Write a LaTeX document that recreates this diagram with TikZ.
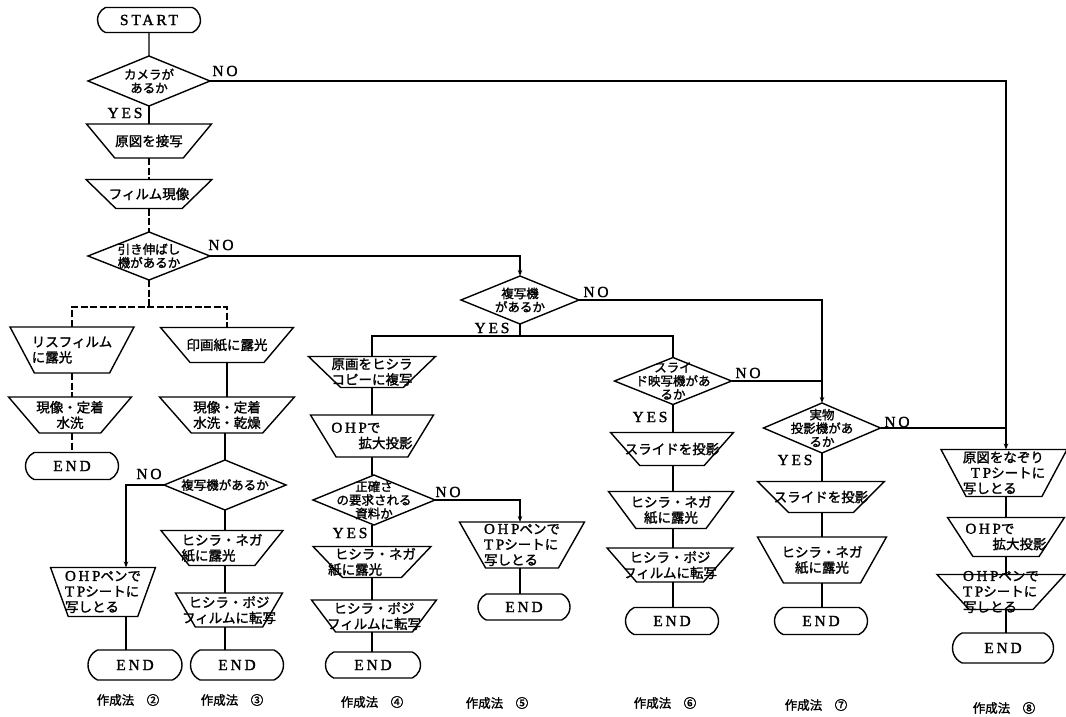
\documentclass[tikz,border=0pt]{standalone}
\usepackage{fontspec}
\usetikzlibrary{shapes.geometric,shapes.misc,arrows.meta,calc}
\newfontfamily\jp[FakeBold=1.5]{Noto Sans CJK JP}
\newfontfamily\lat[LetterSpace=18,FakeBold=1.5]{Liberation Serif}
\newcommand\jtxt{\fontsize{13.5}{15.5}\selectfont\jp}
\newcommand\jdia{\fontsize{12.5}{13.5}\selectfont\jp}
\newcommand\ltxt{\fontsize{15.5}{15.5}\selectfont\lat}
\newcommand\LL[1]{{\fontsize{15}{15}\selectfont\lat #1}}
\tikzset{
  base/.style={draw, line width=1.4pt, inner sep=0pt, outer sep=0pt},
  txt/.style={font=\jtxt, align=center, inner sep=0pt},
  txtl/.style={font=\jtxt, align=left, inner sep=0pt},
  dtxt/.style={font=\jdia, align=center, inner sep=0pt},
  term/.style n args={2}{base, rounded rectangle, rounded rectangle arc length=130, minimum width=#1, minimum height=#2, font=\ltxt},
  tzb/.style n args={3}{base, inner sep=3pt, trapezium, shape border rotate=180, trapezium stretches=true, minimum width=#1, minimum height=#2, trapezium angle=#3},
  tz/.style n args={4}{tzb={#1}{#2}{#3}, label={[txt]center:#4}},
  tzl/.style n args={4}{tzb={#1}{#2}{#3}, label={[txtl]center:#4}},
  dia/.style n args={3}{base, inner sep=2pt, diamond, minimum width=#1, minimum height=#2, label={[dtxt]center:#3}},
  yn/.style={font=\ltxt, inner sep=0pt},
  capt/.style={font=\fontsize{12.5}{13}\selectfont\jp, inner sep=0pt},
  cn/.style={line width=1.4pt},
  dcn/.style={line width=1.4pt, dash pattern=on 7pt off 2.5pt},
  arr/.style={-{Stealth[length=6pt,width=4.5pt]}},
}
\begin{document}
\begin{tikzpicture}[x=1pt,y=-1pt]
\fill[white] (0,0) rectangle (1066,717);
\useasboundingbox (0,0) rectangle (1066,717);

% column 1 / top
\node[term={103pt}{25pt}] (start) at (149,20) {START};
\node[dia={122pt}{50pt}{カメラが\\あるか}] (d1) at (149,81) {};
\node[tz={125pt}{34pt}{67.6}{原図を接写}] (n1) at (149,141) {};
\node[tz={126pt}{29pt}{65.8}{フィルム現像}] (n2) at (149,194) {};
\node[dia={122pt}{48pt}{引き伸ばし\\機があるか}] (d2) at (149,256) {};
\coordinate (sp) at (149,307);
\node[tzl={124pt}{46pt}{72}{リスフィルム\\に露光}] (n3) at (72,350) {};
\node[tz={123pt}{36pt}{63.4}{現像・定着\\水洗}] (n4) at (70,415) {};
\node[term={93pt}{27pt}] (end1) at (72,466) {END};
\node[tz={133pt}{35pt}{68.2}{印画紙に露光}] (n5) at (227,345) {};
\node[tz={135pt}{36pt}{66}{現像・定着\\水洗・乾燥}] (n6) at (227,415) {};
\node[dia={122pt}{50pt}{複写機があるか}] (d3) at (225,485) {};
\node[tzl={105pt}{49pt}{75.7}{\LL{OHP}ペンで\\\LL{TP}シートに\\写しとる}] (n7) at (103,592) {};
\node[term={94pt}{30pt}] (end2) at (135,665) {END};
\node[tzl={122pt}{35pt}{66.8}{ヒシラ・ネガ\\紙に露光}] (n8) at (222,548) {};
\node[tz={107pt}{34pt}{73.6}{ヒシラ・ポジ\\フィルムに転写}] (n9) at (229,610) {};
\node[term={93pt}{30pt}] (end3) at (237,665) {END};

% column 4/5
\node[dia={118pt}{48pt}{複写機\\があるか}] (d4) at (520,300) {};
\coordinate (y4) at (520,336);
\node[tz={127pt}{31pt}{62.7}{原画をヒシラ\\コピーに複写}] (n10) at (372,372) {};
\node[tzl={123pt}{42pt}{70.3}{\LL{OHP}で\\\hspace{2em}拡大投影}] (n11) at (372,436) {};
\node[dia={122pt}{50pt}{正確さ\\の要求される\\資料か}] (d6) at (374,500) {};
\node[tzl={118pt}{31pt}{63.4}{\hspace{0.5em}ヒシラ・ネガ\\紙に露光}] (n12) at (372,562) {};
\node[tz={125pt}{32pt}{72.6}{ヒシラ・ポジ\\フィルムに転写}] (n13) at (374,616) {};
\node[term={95pt}{26pt}] (end4) at (373,665) {END};
\node[tzl={125pt}{46pt}{70.3}{\LL{OHP}ペンで\\\LL{TP}シートに\\写しとる}] (n14) at (522,545) {};
\node[term={92pt}{26pt}] (end5) at (524,607) {END};

% column 6
\node[dia={117pt}{47pt}{スライ\\ド映写機があ\\るか}] (d5) at (673,381) {};
\node[tz={123pt}{33pt}{65.6}{スライドを投影}] (n15) at (672,449) {};
\node[tz={125pt}{37pt}{68.6}{ヒシラ・ネガ\\紙に露光}] (n16) at (671,510) {};
\node[tz={126pt}{34pt}{66.2}{ヒシラ・ポジ\\フィルムに転写}] (n17) at (670,565) {};
\node[term={93pt}{27pt}] (end6) at (672,621) {END};

% column 7
\node[dia={117pt}{50pt}{実物\\投影機があ\\るか}] (d7) at (822,428) {};
\node[tz={127pt}{31pt}{64.2}{スライドを投影}] (n18) at (821,497) {};
\node[tz={129pt}{46pt}{71.4}{ヒシラ・ネガ\\紙に露光}] (n19) at (822,560) {};
\node[term={93pt}{27pt}] (end7) at (821,621) {END};

% column 8
\node[tzl={126pt}{47pt}{71.7}{原図をなぞり\\\hspace{0.6em}\LL{TP}シートに\\写しとる}] (n20) at (1004,473) {};
\node[tzl={117pt}{39pt}{69}{\LL{OHP}で\\\hspace{2em}拡大投影}] (n21) at (1006,537) {};
\node[tzl={128pt}{35pt}{63.4}{\LL{OHP}ペンで\\\LL{TP}シートに\\写しとる}] (n22) at (1001,592) {};
\node[term={101pt}{30pt}] (end8) at (1003,648) {END};
\coordinate (n20in) at ([xshift=2pt]n20.north);
\coordinate (n20out) at ([xshift=2pt]n20.south);
\coordinate (n7in) at ([xshift=23pt]n7.north);
\coordinate (n7out) at ([xshift=23pt]n7.south);
\coordinate (n14in) at ([xshift=-2pt]n14.north);
\coordinate (n14out) at ([xshift=-2pt]n14.south);

% YES / NO labels
\node[yn] (no1) at (225,71) {NO};
\node[yn] (yes1) at (125,113) {YES};
\node[yn] (no2) at (221,245) {NO};
\node[yn] (no3) at (149,474) {NO};
\node[yn] (no4) at (596,292) {NO};
\node[yn] (yes4) at (492,328) {YES};
\node[yn] (no6) at (448,492) {NO};
\node[yn] (yes6) at (350,533) {YES};
\node[yn] (no5) at (748,373) {NO};
\node[yn] (yes5) at (650,417) {YES};
\node[yn] (no7) at (897,422) {NO};
\node[yn] (yes7) at (795,460) {YES};

% captions
\node[capt] (c2) at (128,700) {作成法\quad ②};
\node[capt] (c3) at (232,700) {作成法\quad ③};
\node[capt] (c4) at (372,702) {作成法\quad ④};
\node[capt] (c5) at (497,703) {作成法\quad ⑤};
\node[capt] (c6) at (665,703) {作成法\quad ⑥};
\node[capt] (c7) at (816,705) {作成法\quad ⑦};
\node[capt] (c8) at (1004,708) {作成法\quad ⑧};

% connectors column 1
\draw[cn] (start) -- (d1);
\draw[cn] (d1) -- (n1);
\draw[dcn] (n1) -- (n2);
\draw[dcn] (n2) -- (d2);
\draw[dcn] (d2) -- (sp);
\draw[dcn] (n3.north) |- (sp) -| (n5.north);
\draw[dcn] (n3.south) -- (n3.south |- n4.north);
\draw[dcn] (n3.south |- n4.south) -- (n3.south |- end1.north);
\draw[cn] (n5) -- (n6);
\draw[cn] (d3.north |- n6.south) -- (d3.north);
\draw[cn, arr] (d3.west) -| (n7in);
\draw[cn] (n7out) -- (n7out |- end2.north);
\draw[cn] (d3.south) -- (d3.south |- n8.north);
\draw[cn] (d3.south |- n8.south) -- (d3.south |- n9.north);
\draw[cn] (d3.south |- n9.south) -- (d3.south |- end3.north);

% top NO lines
\draw[cn, arr] (d1.east) -| (n20in);
\draw[cn, arr] (d2.east) -| (d4.north);
\draw[cn, arr] (d4.east) -| (d7.north);
\draw[cn] (d5.east) -- (d5.east -| d7.north);
\draw[cn] (d7.east) -- (d7.east -| n20in);

% column 4/5
\draw[cn] (d4.south) -- (y4);
\draw[cn] (n10.north) |- (y4) -| (d5.north);
\draw[cn] (n10) -- (n11);
\draw[cn] (n11.south) -- (n11.south |- d6.north);
\draw[cn] (n11.south |- d6.south) -- (n11.south |- n12.north);
\draw[cn] (n11.south |- n12.south) -- (n11.south |- n13.north);
\draw[cn] (n11.south |- n13.south) -- (n11.south |- end4.north);
\draw[cn, arr] (d6.east) -| (n14in);
\draw[cn] (n14out) -- (n14out |- end5.north);

% column 6
\draw[cn] (d5.south) -- (d5.south |- n15.north);
\draw[cn] (d5.south |- n15.south) -- (d5.south |- n16.north);
\draw[cn] (d5.south |- n16.south) -- (d5.south |- n17.north);
\draw[cn] (d5.south |- n17.south) -- (d5.south |- end6.north);

% column 7
\draw[cn] (d7.south) -- (d7.south |- n18.north);
\draw[cn] (d7.south |- n18.south) -- (d7.south |- n19.north);
\draw[cn] (d7.south |- n19.south) -- (d7.south |- end7.north);

% column 8
\draw[cn] (n20out) -- (n20out |- n21.north);
\draw[cn] (n20out |- n21.south) -- (n20out |- n22.north);
\draw[cn] (n20out |- n22.south) -- (n20out |- end8.north);
\end{tikzpicture}
\end{document}
